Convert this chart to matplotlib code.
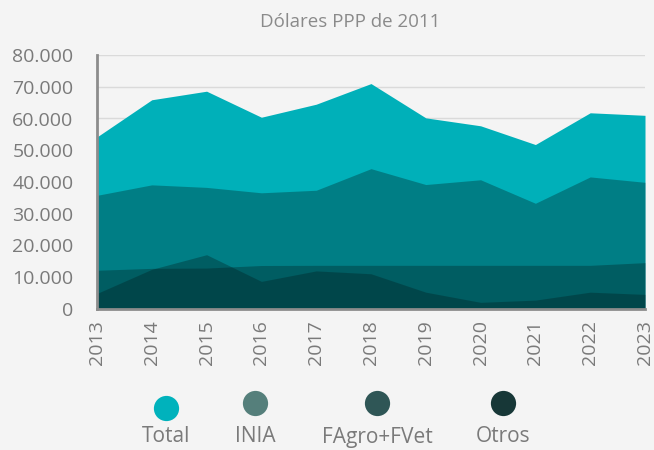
import matplotlib
matplotlib.use("Agg")
import matplotlib.pyplot as plt
from matplotlib.ticker import FuncFormatter

# -------------------------------------------------------------------
# Data
# -------------------------------------------------------------------
years = [2013, 2014, 2015, 2016, 2017, 2018, 2019, 2020, 2021, 2022, 2023]
total = [54200, 65900, 68600, 60400, 64500, 71000, 60200, 57700, 51800, 61800, 61000]
inia = [35800, 39100, 38300, 36600, 37400, 44200, 39200, 40700, 33300, 41600, 39900]
fagro = [12200, 12800, 12900, 13700, 13750, 13750, 13750, 13750, 13750, 13750, 14600]
otros = [4900, 12500, 17100, 8700, 12000, 11100, 5300, 2100, 2800, 5300, 4600]

labels = ["Total", "INIA", "FAgro+FVet", "Otros"]
legend_colors = ["#00B2BC", "#557F7B", "#2F5656", "#173737"]

plt.rcParams["font.family"] = ["Open Sans", "DejaVu Sans"]
bg = "#F4F4F4"
txt = "#7A7A7A"

fig = plt.figure(figsize=(6.54, 4.50), dpi=100, facecolor=bg)
ax = fig.add_axes([97 / 654, 1 - 309 / 450, 548 / 654, 254 / 450])
ax.set_facecolor(bg)

# Overlapping (not stacked) areas; darker series are translucent overlays
ax.fill_between(years, 0, total, color="#00B0B9", lw=0, zorder=2)
ax.fill_between(years, 0, inia, color="#001A1C", alpha=0.33, lw=0, zorder=3)
ax.fill_between(years, 0, fagro, color="#001A1C", alpha=0.33, lw=0, zorder=4)
ax.fill_between(years, 0, otros, color="#001A1C", alpha=0.33, lw=0, zorder=5)

ax.set_xlim(2013, 2023)
ax.set_ylim(0, 80000)
ax.set_yticks(range(0, 80001, 10000))
ax.yaxis.set_major_formatter(FuncFormatter(lambda v, p: f"{int(v):,}".replace(",", ".")))
ax.set_xticks(years)
ax.set_xticklabels([str(y) for y in years], rotation=90)
ax.grid(axis="y", color="#DADADA", lw=1, zorder=1)
ax.set_axisbelow(True)

for s in ["top", "right"]:
    ax.spines[s].set_visible(False)
for s in ["left", "bottom"]:
    ax.spines[s].set_color("#8C8C8C")
    ax.spines[s].set_linewidth(2)
    ax.spines[s].set_zorder(6)

ax.tick_params(axis="both", length=0, colors=txt, labelsize=14)
ax.tick_params(axis="y", pad=17)
ax.tick_params(axis="x", pad=8)

fig.text(350 / 654, 1 - 22 / 450, "Dólares PPP de 2011", ha="center", va="center",
         color="#8A8A8A", fontsize=13.5)

# Legend drawn in pixel space
lax = fig.add_axes([0, 0, 1, 1])
lax.set_xlim(0, 654)
lax.set_ylim(450, 0)
lax.axis("off")
leg_x = [166, 255, 377, 503]
leg_y = [408, 403, 403, 403]
for lx, ly, lab, c in zip(leg_x, leg_y, labels, legend_colors):
    lax.scatter([lx], [ly], s=330, color=c, lw=0)
    lax.text(lx, 437, lab, ha="center", va="center", color=txt, fontsize=15)

fig.savefig("out.png", dpi=100, facecolor=bg)
